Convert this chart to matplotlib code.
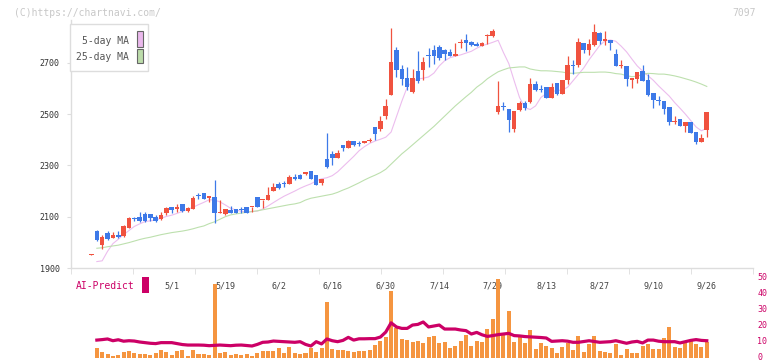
import numpy as np
import matplotlib
matplotlib.use('Agg')
import matplotlib.pyplot as plt
import matplotlib.transforms as mtrans
from matplotlib.patches import Rectangle

plt.rcParams['font.family'] = 'DejaVu Sans Mono'

# daily candles, first one is the day before the MA / volume series start
opens = [1952, 2044, 1990, 2036, 2018, 2027, 2025, 2057, 2093, 2099,
         2111, 2111, 2099, 2091, 2114, 2137, 2132, 2150, 2122, 2131,
         2184, 2192, 2173, 2177, 2115, 2109, 2126, 2131, 2130, 2138,
         2137, 2177, 2164, 2165, 2200, 2227, 2231, 2227, 2255, 2263,
         2266, 2278, 2263, 2231, 2325, 2344, 2330, 2381, 2369, 2395,
         2386, 2389, 2397, 2450, 2442, 2493, 2574, 2750, 2676, 2641,
         2586, 2668, 2672, 2731, 2750, 2762, 2750, 2742, 2728, 2776,
         2789, 2781, 2773, 2766, 2804, 2804, 2508, 2530, 2520, 2442,
         2516, 2543, 2547, 2617, 2596, 2606, 2563, 2621, 2578, 2633,
         2690, 2691, 2777, 2750, 2769, 2816, 2787, 2789, 2734, 2686,
         2688, 2633, 2637, 2668, 2633, 2582, 2553, 2551, 2528, 2471,
         2481, 2454, 2469, 2430, 2391, 2438]
highs = [1954, 2048, 2027, 2044, 2039, 2044, 2066, 2097, 2100, 2118,
         2118, 2111, 2107, 2117, 2139, 2139, 2148, 2150, 2136, 2181,
         2191, 2192, 2179, 2243, 2165, 2130, 2140, 2131, 2137, 2138,
         2139, 2177, 2166, 2215, 2231, 2235, 2239, 2263, 2266, 2266,
         2275, 2278, 2263, 2247, 2426, 2356, 2360, 2381, 2399, 2395,
         2395, 2395, 2407, 2450, 2493, 2559, 2836, 2762, 2691, 2684,
         2676, 2746, 2723, 2758, 2769, 2769, 2754, 2754, 2777, 2793,
         2812, 2785, 2781, 2781, 2812, 2832, 2629, 2547, 2520, 2512,
         2551, 2551, 2641, 2629, 2613, 2606, 2621, 2621, 2633, 2727,
         2711, 2797, 2777, 2793, 2851, 2820, 2824, 2789, 2754, 2711,
         2688, 2641, 2664, 2691, 2656, 2582, 2571, 2551, 2528, 2493,
         2481, 2469, 2469, 2430, 2422, 2508]
lows = [1952, 2005, 1975, 2009, 2016, 2016, 2021, 2055, 2084, 2081,
        2078, 2084, 2081, 2089, 2107, 2116, 2118, 2118, 2120, 2131,
        2169, 2170, 2158, 2077, 2113, 2107, 2113, 2116, 2116, 2114,
        2118, 2138, 2134, 2165, 2200, 2207, 2216, 2227, 2243, 2247,
        2264, 2247, 2224, 2222, 2290, 2302, 2330, 2357, 2369, 2377,
        2377, 2387, 2391, 2399, 2434, 2481, 2574, 2645, 2613, 2594,
        2582, 2621, 2633, 2684, 2696, 2711, 2711, 2726, 2728, 2758,
        2746, 2765, 2765, 2765, 2773, 2801, 2500, 2516, 2430, 2430,
        2512, 2516, 2543, 2590, 2586, 2563, 2563, 2575, 2578, 2617,
        2656, 2684, 2738, 2731, 2766, 2773, 2769, 2750, 2688, 2680,
        2610, 2602, 2621, 2629, 2571, 2524, 2536, 2500, 2457, 2461,
        2454, 2430, 2426, 2383, 2391, 2411]
closes = [1954, 2009, 2021, 2014, 2030, 2022, 2065, 2095, 2090, 2084,
          2083, 2096, 2084, 2105, 2134, 2126, 2134, 2122, 2135, 2173,
          2181, 2170, 2179, 2113, 2118, 2130, 2116, 2116, 2128, 2114,
          2139, 2138, 2166, 2185, 2216, 2212, 2226, 2255, 2247, 2247,
          2275, 2247, 2224, 2247, 2294, 2330, 2350, 2369, 2395, 2381,
          2383, 2395, 2400, 2422, 2473, 2532, 2703, 2672, 2637, 2606,
          2641, 2629, 2703, 2728, 2727, 2719, 2734, 2727, 2735, 2778,
          2777, 2769, 2766, 2777, 2806, 2824, 2532, 2528, 2477, 2512,
          2543, 2524, 2617, 2594, 2594, 2563, 2606, 2578, 2633, 2691,
          2686, 2781, 2750, 2773, 2820, 2785, 2789, 2777, 2688, 2688,
          2637, 2641, 2664, 2629, 2574, 2555, 2551, 2520, 2469, 2473,
          2454, 2469, 2426, 2391, 2407, 2508]

# moving averages (day 1 onwards)
ma5 = [1925, 1928, 1965, 1995, 2012, 2030, 2046, 2062, 2072, 2081,
       2084, 2087, 2094, 2101, 2106, 2113, 2121, 2129, 2137, 2147,
       2156, 2166, 2165, 2158, 2146, 2133, 2126, 2121, 2119, 2120,
       2122, 2130, 2142, 2155, 2168, 2180, 2190, 2200, 2211, 2220,
       2228, 2240, 2248, 2252, 2260, 2275, 2295, 2315, 2335, 2357,
       2373, 2386, 2395, 2402, 2410, 2430, 2490, 2550, 2605, 2628,
       2637, 2640, 2645, 2660, 2688, 2708, 2720, 2726, 2731, 2738,
       2745, 2757, 2767, 2773, 2780, 2788, 2740, 2697, 2630, 2565,
       2525, 2518, 2532, 2565, 2580, 2588, 2592, 2594, 2605, 2630,
       2655, 2680, 2712, 2740, 2768, 2786, 2789, 2784, 2765, 2743,
       2715, 2688, 2668, 2650, 2632, 2610, 2590, 2570, 2545, 2523,
       2500, 2475, 2450, 2435, 2445]
ma25 = [1977, 1979, 1983, 1986, 1989, 1994, 1999, 2005, 2011, 2016,
        2020, 2025, 2030, 2034, 2038, 2041, 2044, 2048, 2053, 2059,
        2064, 2073, 2080, 2090, 2100, 2107, 2111, 2114, 2117, 2120,
        2123, 2127, 2131, 2135, 2139, 2143, 2147, 2150, 2155, 2165,
        2172, 2176, 2180, 2184, 2188, 2195, 2204, 2212, 2222, 2232,
        2243, 2253, 2262, 2272, 2285, 2305, 2325, 2345, 2362, 2380,
        2398, 2416, 2434, 2452, 2472, 2492, 2512, 2532, 2550, 2568,
        2585, 2605, 2620, 2638, 2652, 2665, 2673, 2680, 2682, 2684,
        2684, 2676, 2672, 2669, 2669, 2668, 2666, 2664, 2660, 2659,
        2661, 2663, 2663, 2663, 2664, 2664, 2662, 2658, 2656, 2650,
        2646, 2648, 2655, 2659, 2658, 2656, 2656, 2653, 2649, 2644,
        2638, 2632, 2625, 2617, 2608]

# lower panel (day 1 onwards)
volume = [6.2, 3.9, 2.5, 1.2, 1.7, 3.9, 4.4, 3.1, 2.5, 2.5,
          1.9, 3.1, 5.0, 3.8, 1.9, 4.6, 5.0, 1.2, 5.0, 2.5,
          2.5, 1.9, 46.2, 3.3, 3.8, 2.1, 2.5, 1.9, 2.5, 1.2,
          3.1, 4.4, 4.4, 4.6, 6.2, 3.1, 6.9, 3.1, 2.5, 3.1,
          6.2, 3.8, 6.2, 35.0, 5.6, 5.0, 5.0, 4.4, 3.8, 4.6,
          4.6, 5.0, 8.1, 10.8, 13.3, 41.9, 19.0, 11.9, 11.2, 10.0,
          10.6, 9.4, 13.1, 13.8, 9.4, 10.0, 6.2, 7.5, 10.6, 14.4,
          7.5, 10.6, 10.0, 18.1, 24.4, 49.2, 15.6, 29.4, 10.0, 13.1,
          9.4, 17.5, 5.6, 9.4, 7.5, 6.2, 3.1, 6.9, 9.4, 5.0,
          13.8, 3.8, 8.8, 13.8, 4.4, 3.8, 3.1, 8.8, 1.9, 5.6,
          3.1, 3.1, 7.5, 8.8, 5.6, 5.6, 12.5, 19.4, 6.9, 6.2,
          10.0, 10.6, 8.8, 6.9, 10.0]
ai_predict = [11.2, 11.5, 11.9, 10.8, 11.4, 10.5, 10.8, 10.6, 10.0, 9.6,
              9.2, 9.0, 9.6, 9.6, 9.6, 9.0, 8.4, 8.1, 8.1, 8.1,
              8.0, 7.7, 7.9, 8.1, 7.9, 7.7, 8.0, 8.1, 7.8, 7.5,
              8.5, 9.8, 10.0, 10.6, 10.4, 10.2, 10.0, 9.8, 10.2, 8.5,
              7.5, 10.2, 8.8, 11.9, 10.8, 10.2, 11.0, 12.9, 11.2, 12.0,
              12.0, 12.1, 12.1, 13.1, 16.2, 22.0, 19.4, 18.5, 18.5, 20.6,
              21.0, 22.5, 19.4, 20.0, 20.6, 18.1, 18.1, 18.1, 17.5, 17.1,
              15.0, 16.0, 14.5, 13.5, 14.0, 14.6, 15.0, 15.4, 14.0, 13.8,
              13.4, 13.2, 13.0, 12.8, 12.5, 10.4, 10.6, 10.8, 10.5, 9.8,
              9.8, 10.3, 10.8, 10.3, 9.8, 10.0, 10.2, 10.8, 10.0, 9.2,
              10.0, 10.4, 9.4, 11.2, 11.2, 10.5, 10.2, 10.2, 10.2, 9.4,
              10.2, 11.0, 11.5, 11.0, 10.8]

date_labels = ['5/1', '5/19', '6/2', '6/16', '6/30', '7/14', '7/29',
               '8/13', '8/27', '9/10', '9/26']
date_index = [15, 25, 35, 45, 55, 65, 75, 85, 95, 105, 115]

upcolor = '#f0523f'
downcolor = '#3d79e8'
gridgray = '#dddddd'
aicolor = '#cc0066'

W, H = 772, 361


def fx(px):
    return px / W


def fy(py):
    return 1 - py / H


fig = plt.figure(figsize=(W / 100, H / 100), dpi=100)
ax = fig.add_axes([fx(71), fy(268), fx(753) - fx(71), fy(20) - fy(268)])
ax2 = fig.add_axes([fx(71), fy(358), fx(753) - fx(71), fy(272) - fy(358)])
xlim = (-3.83, 123.64)

# candles
o = np.array(opens)
c = np.array(closes)
day = np.arange(len(o))
cols = [upcolor if cc >= oo else downcolor for oo, cc in zip(o, c)]
ax.vlines(day, lows, highs, colors=cols, linewidth=0.9, zorder=3)
ax.bar(day, np.maximum(np.abs(c - o), 4), bottom=np.minimum(o, c),
       width=0.85, color=cols, linewidth=0, zorder=4)

madays = np.arange(1, len(ma5) + 1)
ax.plot(madays, ma5, color='#ecbdee', linewidth=0.8, zorder=2)
ax.plot(madays, ma25, color='#bde0ae', linewidth=0.8, zorder=2)

ax.set_xlim(*xlim)
ax.set_ylim(1900, 2867)
for s in ['top', 'right']:
    ax.spines[s].set_visible(False)
for s in ['left', 'bottom']:
    ax.spines[s].set_color(gridgray)
    ax.spines[s].set_linewidth(1.0)
ax.set_yticks([1900, 2100, 2300, 2500, 2700])
ax.tick_params(axis='y', length=3, color=gridgray, labelsize=6,
               labelcolor='#333333', pad=5)
ax.set_xticks(date_index)
ax.set_xticklabels(date_labels)
ax.set_xticks(np.linspace(xlim[0], xlim[1], 12), minor=True)
ax.tick_params(axis='x', which='major', length=0, labelsize=6,
               labelcolor='#444444', pad=10)
ax.tick_params(axis='x', which='minor', length=4, color=gridgray)

# lower panel
vdays = np.arange(1, len(volume) + 1)
ax2.bar(vdays, volume, width=0.75, color='#f59540', linewidth=0, zorder=2)
ax2.plot(vdays, ai_predict, color=aicolor, linewidth=2.3, zorder=3)
ax2.set_xlim(*xlim)
ax2.set_ylim(0, 53.75)
ax2.patch.set_visible(False)
for s in ax2.spines.values():
    s.set_visible(False)
ax2.set_xticks([])
ax2.yaxis.tick_right()
ax2.set_yticks([0, 10, 20, 30, 40, 50])
ax2.tick_params(axis='y', length=0, labelsize=6, labelcolor=aicolor, pad=3)
lift = mtrans.ScaledTranslation(0, 2 / 100, fig.dpi_scale_trans)
for lab in ax2.get_yticklabels():
    lab.set_transform(lab.get_transform() + lift)

# legend box
fig.add_artist(Rectangle((fx(70), fy(71)), fx(148) - fx(70), fy(24) - fy(71),
                         transform=fig.transFigure, facecolor='white',
                         edgecolor=gridgray, linewidth=1.0))
fig.text(fx(129), fy(41), '5-day MA', ha='right', va='center',
         fontsize=7, color='#555555')
fig.text(fx(129), fy(57), '25-day MA', ha='right', va='center',
         fontsize=7, color='#555555')
fig.add_artist(Rectangle((fx(136.5), fy(46.5)), fx(6.5), 15 / H,
                         transform=fig.transFigure, facecolor='#eab8ec',
                         edgecolor='#666666', linewidth=0.8))
fig.add_artist(Rectangle((fx(136.5), fy(63)), fx(6.5), 14.5 / H,
                         transform=fig.transFigure, facecolor='#bcdcaa',
                         edgecolor='#666666', linewidth=0.8))

fig.text(fx(76), fy(286), 'AI-Predict', ha='left', va='center',
         fontsize=7, color=aicolor)
fig.add_artist(Rectangle((fx(142), fy(293)), fx(7), 16 / H,
                         transform=fig.transFigure, facecolor=aicolor,
                         edgecolor='none'))

fig.text(fx(14), fy(12.5), '(C)https://chartnavi.com/', ha='left',
         va='center', fontsize=7, color='#c8c8c8')
fig.text(fx(756), fy(12.5), '7097', ha='right', va='center',
         fontsize=7, color='#c8c8c8')

fig.savefig('out.png', dpi=100)
